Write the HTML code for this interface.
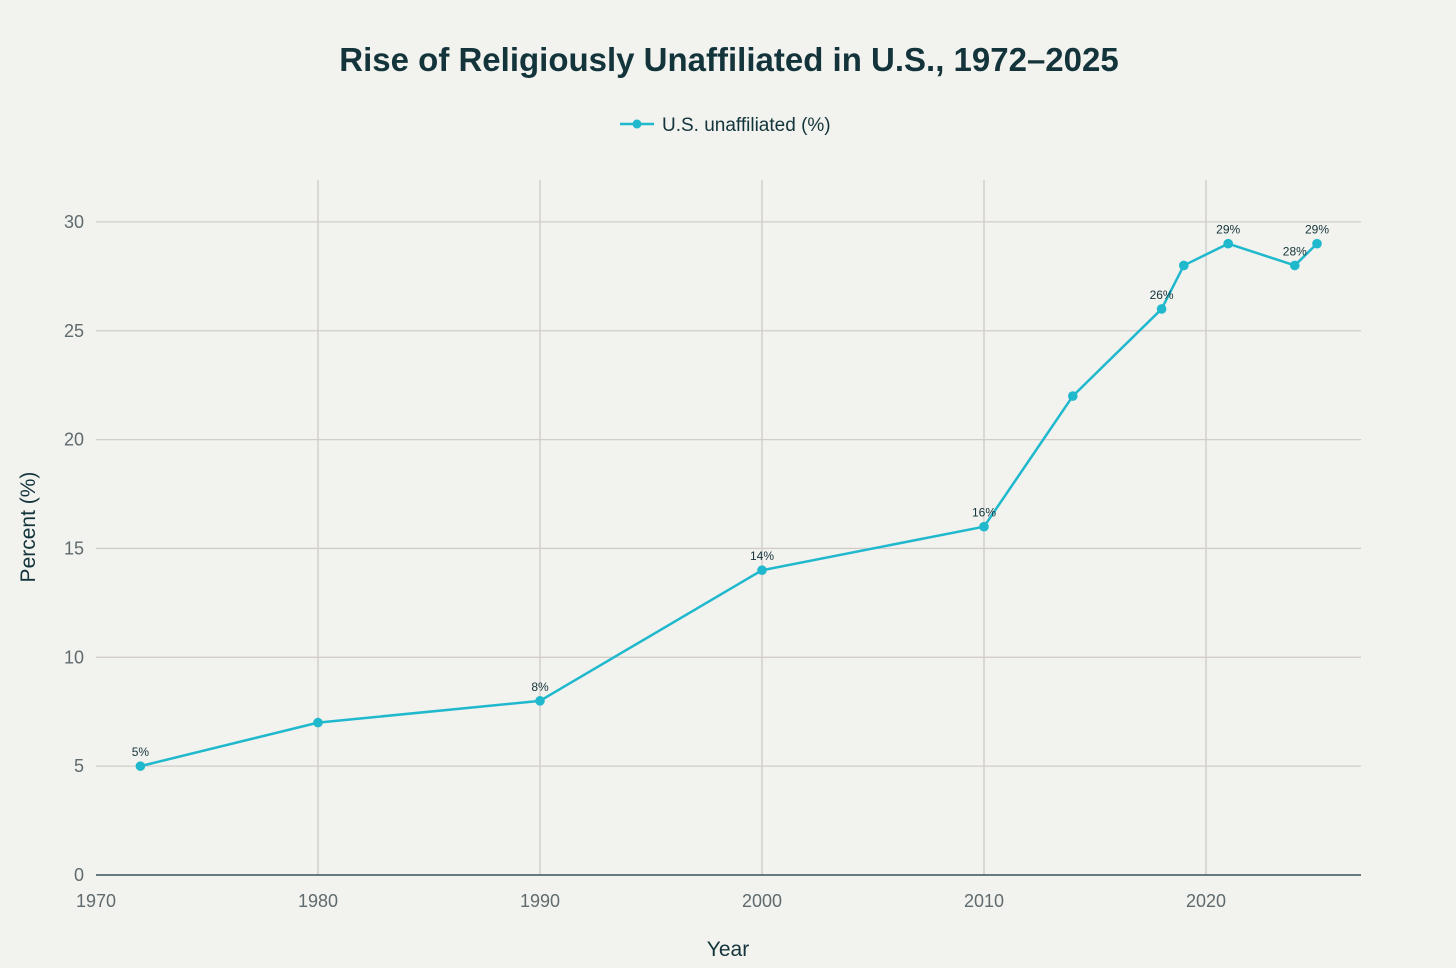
<!DOCTYPE html>
<html><head><meta charset="utf-8"><style>
html,body{margin:0;padding:0;background:#f2f2ee;}
svg{display:block;font-family:"Liberation Sans",sans-serif;}
</style></head><body>
<svg id="chart" width="1456" height="968">
<rect width="1456" height="968" fill="#f2f2ee"/>
<text x="729" y="71" text-anchor="middle" font-size="33" font-weight="bold" fill="#13343b">Rise of Religiously Unaffiliated in U.S., 1972–2025</text>
<g>
<line x1="620" y1="124" x2="654" y2="124" stroke="#1fb8cd" stroke-width="2.5"/>
<circle cx="637" cy="124" r="4.5" fill="#1fb8cd"/>
<text x="662" y="131" font-size="19" fill="#13343b">U.S. unaffiliated (%)</text>
</g>
<g id="grid"></g>
<g id="axes"></g>
<g id="series"></g>
<text x="728" y="956" text-anchor="middle" font-size="21" fill="#13343b">Year</text>
<text transform="translate(35,527) rotate(-90)" text-anchor="middle" font-size="21" fill="#13343b">Percent (%)</text>
</svg>
<script>
const years = [1972, 1980, 1990, 2000, 2010, 2014, 2018, 2019, 2021, 2024, 2025];
const values = [5, 7, 8, 14, 16, 22, 26, 28, 29, 28, 29];
const pointLabels = ["5%", "", "8%", "14%", "16%", "", "26%", "", "29%", "28%", "29%"];
const xTicks = [1970, 1980, 1990, 2000, 2010, 2020];
const yTicks = [0, 5, 10, 15, 20, 25, 30];

const NS = "http://www.w3.org/2000/svg";
const X0 = 96, X1 = 1361, Y0 = 875, YTOP = 180;
function xs(v){ return 96 + (v - 1970) * 22.2; }
function ys(v){ return 875 - v * 21.77; }
function mk(tag, attrs, parent, text){
  const e = document.createElementNS(NS, tag);
  for (const k in attrs) e.setAttribute(k, attrs[k]);
  if (text !== undefined) e.textContent = text;
  parent.appendChild(e); return e;
}
const grid = document.getElementById("grid");
const axes = document.getElementById("axes");
const series = document.getElementById("series");

xTicks.forEach(t => {
  const x = xs(t);
  if (t !== 1970) {
    const l = mk("line", {x1:x, x2:x, y1:YTOP, y2:Y0, stroke:"#cdcac5", "stroke-width":1.3}, grid);
    
    
  }
  const tx = mk("text", {x:x, y:907, "text-anchor":"middle", "font-size":18, fill:"#5f6b6e"}, axes, String(t));
  
  
});
yTicks.forEach(t => {
  const y = ys(t);
  if (t !== 0) {
    const l = mk("line", {x1:X0, x2:X1, y1:y, y2:y, stroke:"#d3cdca", "stroke-width":1.3}, grid);
    
    
  }
  const tx = mk("text", {x:84, y:y + 6, "text-anchor":"end", "font-size":18, fill:"#5f6b6e"}, axes, String(t));
  
  
});
const ax = mk("line", {x1:X0, x2:X1, y1:Y0, y2:Y0, stroke:"#13343b", "stroke-width":1.2}, axes);



const pts = years.map((y, i) => xs(y) + "," + ys(values[i])).join(" ");
const line = mk("polyline", {points:pts, fill:"none", stroke:"#1fb8cd", "stroke-width":2.5, "stroke-linejoin":"round"}, series);


years.forEach((yr, i) => {
  const c = mk("circle", {cx:xs(yr), cy:ys(values[i]), r:4.8, fill:"#1fb8cd"}, series);
  
  
  if (pointLabels[i]) {
    const t = mk("text", {x:xs(yr), y:ys(values[i]) - 10, "text-anchor":"middle", "font-size":12, fill:"#13343b"}, series, pointLabels[i]);
    
    
  }
});
</script>
</body></html>
